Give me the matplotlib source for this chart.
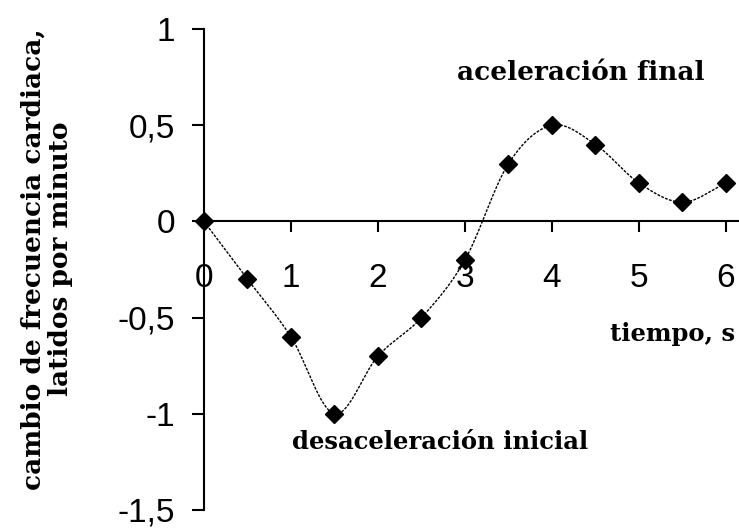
import numpy as np
import matplotlib
matplotlib.use("Agg")
import matplotlib.pyplot as plt

# Data
tiempo = [0, 0.5, 1, 1.5, 2, 2.5, 3, 3.5, 4, 4.5, 5, 5.5, 6]
cambio = [0, -0.3, -0.6, -1.0, -0.7, -0.5, -0.2, 0.3, 0.5, 0.4, 0.2, 0.1, 0.2]
xticks = [0, 1, 2, 3, 4, 5, 6]
yticks = [1, 0.5, 0, -0.5, -1, -1.5]
ytick_labels = ["1", "0,5", "0", "-0,5", "-1", "-1,5"]


def catmull_rom(x, y, n=30):
    x = np.asarray(x, float)
    y = np.asarray(y, float)
    px = np.concatenate([[2 * x[0] - x[1]], x, [2 * x[-1] - x[-2]]])
    py = np.concatenate([[2 * y[0] - y[1]], y, [2 * y[-1] - y[-2]]])
    xs, ys = [], []
    t = np.linspace(0, 1, n, endpoint=False)
    for i in range(1, len(px) - 2):
        p0, p1, p2, p3 = (np.array([px[j], py[j]]) for j in range(i - 1, i + 3))
        tt = t[:, None]
        pts = 0.5 * ((2 * p1) + (-p0 + p2) * tt + (2 * p0 - 5 * p1 + 4 * p2 - p3) * tt ** 2
                     + (-p0 + 3 * p1 - 3 * p2 + p3) * tt ** 3)
        xs.extend(pts[:, 0])
        ys.extend(pts[:, 1])
    xs.append(x[-1])
    ys.append(y[-1])
    return np.array(xs), np.array(ys)


fig = plt.figure(figsize=(7.39, 5.29), dpi=100)
ax = fig.add_axes([0.276, 0.036, 0.724, 0.909])

sx, sy = catmull_rom(tiempo, cambio)
ax.plot(sx, sy, color="black", lw=1.0, ls=(0, (2, 1)), zorder=3)
ax.plot(tiempo, cambio, ls="none", marker="D", ms=9.5, color="black", zorder=4, clip_on=False)

ax.set_xlim(0, 6.15)
ax.set_ylim(-1.5, 1)

ax.spines["top"].set_visible(False)
ax.spines["right"].set_visible(False)
ax.spines["bottom"].set_position(("data", 0))
ax.spines["left"].set_position(("data", 0))
for s in ("bottom", "left"):
    ax.spines[s].set_linewidth(1.5)

tick_font = dict(family="Liberation Sans", size=24)
ax.set_xticks(xticks)
ax.set_xticklabels([str(v) for v in xticks], fontdict=tick_font)
ax.set_yticks(yticks)
ax.set_yticklabels(ytick_labels, fontdict=tick_font)
ax.tick_params(axis="x", direction="out", length=8, width=1.5, pad=22)
ax.tick_params(axis="y", direction="out", length=9, width=1.5, pad=12)

serif = dict(family="DejaVu Serif", weight="bold", color="black")
ax.text(4.33, 0.775, "aceleración final", ha="center", va="center", size=19, **serif)
ax.text(2.71, -1.147, "desaceleración inicial", ha="center", va="center", size=17.5, **serif)
ax.text(6.10, -0.587, "tiempo, s", ha="right", va="center", size=17.5, **serif)

fig.text(0.063, 0.51, "cambio de frecuencia cardiaca,\nlatidos por minuto", rotation=90,
         ha="center", va="center", linespacing=1.1, size=19, **serif)

fig.savefig("out.png", dpi=100)
